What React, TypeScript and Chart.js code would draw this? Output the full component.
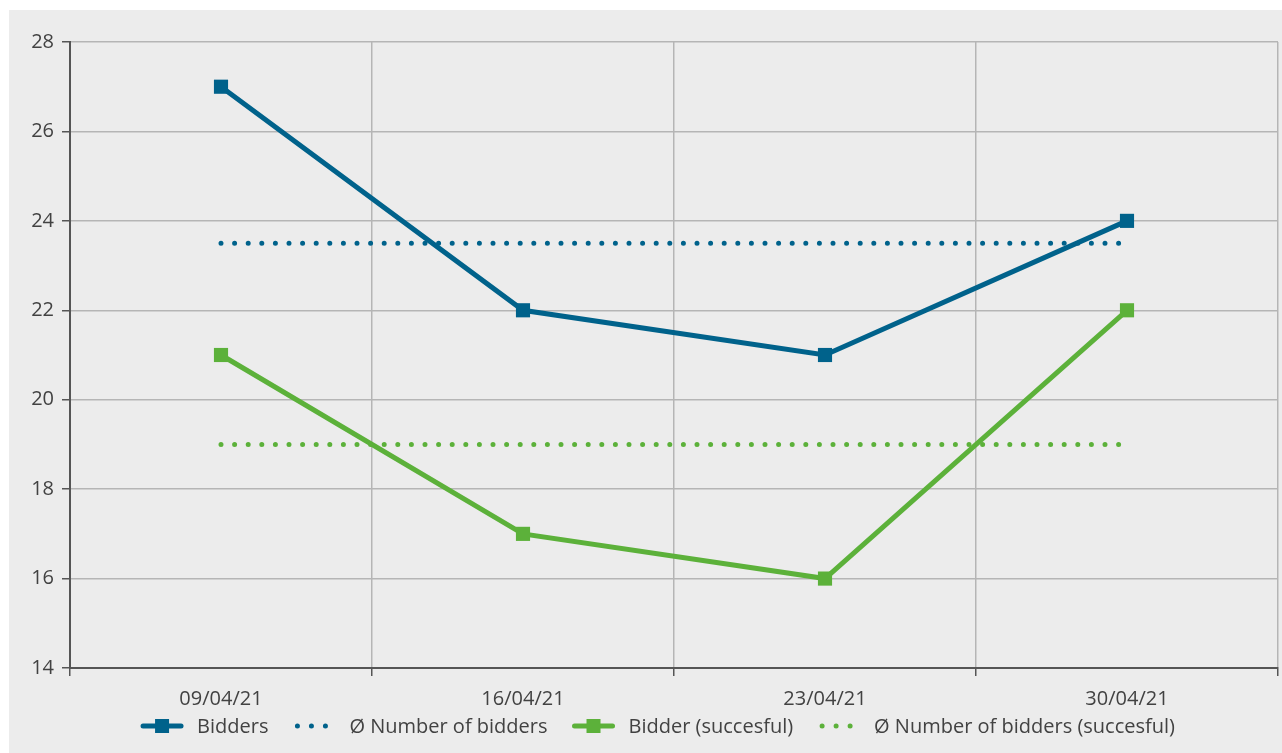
import React, { useEffect, useRef } from "react";
import { Chart, registerables } from "chart.js";

Chart.register(...registerables);

const categories = ["09/04/21", "16/04/21", "23/04/21", "30/04/21"];
const bidders = [27, 22, 21, 24];
const avgBidders = [23.5, 23.5, 23.5, 23.5];
const successful = [21, 17, 16, 22];
const avgSuccessful = [19, 19, 19, 19];
const yTicks = [14, 16, 18, 20, 22, 24, 26, 28];

const BLUE = "#00628b";
const GREEN = "#5cb13a";
const TEXT = "#424242";
const FONT_FAMILY = "'Open Sans', 'Noto Sans', sans-serif";
const FONT_SIZE = 20;
const W = 1273;
const H = 743;

const legendItems = [
  { label: "Bidders", color: BLUE, type: "line" },
  { label: "Ø Number of bidders", color: BLUE, type: "dots" },
  { label: "Bidder (succesful)", color: GREEN, type: "line" },
  { label: "Ø Number of bidders (succesful)", color: GREEN, type: "dots" },
];

const legendPlugin = {
  id: "customLegend",
  afterDraw(chart: any) {
    const ctx = chart.ctx as CanvasRenderingContext2D;
    ctx.save();
    ctx.font = `${FONT_SIZE}px ${FONT_FAMILY}`;
    ctx.textBaseline = "middle";
    const symW = 42;
    const textGap = 14;
    const itemGap = 25;
    const widths = legendItems.map((it) => symW + textGap + ctx.measureText(it.label).width);
    const total = widths.reduce((a, b) => a + b, 0) + itemGap * (legendItems.length - 1);
    const centerX = 649;
    const y = 716;
    let x = centerX - total / 2;
    legendItems.forEach((it, i) => {
      ctx.strokeStyle = it.color;
      ctx.fillStyle = it.color;
      if (it.type === "line") {
        ctx.lineWidth = 5;
        ctx.lineCap = "round";
        ctx.beginPath();
        ctx.moveTo(x + 2, y);
        ctx.lineTo(x + symW - 2, y);
        ctx.stroke();
        ctx.fillRect(x + symW / 2 - 7, y - 7, 14, 14);
      } else {
        for (let k = 0; k < 3; k++) {
          ctx.beginPath();
          ctx.arc(x + 4 + k * 14, y, 2.5, 0, Math.PI * 2);
          ctx.fill();
        }
      }
      ctx.fillStyle = TEXT;
      ctx.fillText(it.label, x + symW + textGap, y + 1);
      x += widths[i] + itemGap;
    });
    ctx.restore();
  },
};

export default function App() {
  const canvasRef = useRef<HTMLCanvasElement | null>(null);

  useEffect(() => {
    const canvas = canvasRef.current;
    if (!canvas) return;
    const chart = new Chart(canvas, {
      type: "line",
      data: {
        labels: categories,
        datasets: [
          {
            label: "Ø Number of bidders",
            data: avgBidders,
            borderColor: BLUE,
            borderWidth: 5,
            borderDash: [0, 13.6],
            borderCapStyle: "round",
            pointRadius: 0,
            fill: false,
          },
          {
            label: "Ø Number of bidders (succesful)",
            data: avgSuccessful,
            borderColor: GREEN,
            borderWidth: 5,
            borderDash: [0, 13.6],
            borderCapStyle: "round",
            pointRadius: 0,
            fill: false,
          },
          {
            label: "Bidders",
            data: bidders,
            borderColor: BLUE,
            backgroundColor: BLUE,
            borderWidth: 5,
            pointStyle: "rect",
            pointRadius: 10,
            pointBorderWidth: 0,
            tension: 0,
            fill: false,
          },
          {
            label: "Bidder (succesful)",
            data: successful,
            borderColor: GREEN,
            backgroundColor: GREEN,
            borderWidth: 5,
            pointStyle: "rect",
            pointRadius: 10,
            pointBorderWidth: 0,
            tension: 0,
            fill: false,
          },
        ],
      },
      options: {
        animation: false,
        responsive: false,
        maintainAspectRatio: false,
        devicePixelRatio: 1,
        layout: { autoPadding: false, padding: { top: 32, right: 4, left: 0, bottom: 0 } },
        plugins: {
          legend: { display: false },
          tooltip: { enabled: false },
        },
        scales: {
          x: {
            type: "category",
            offset: true,
            grid: {
              offset: true,
              color: "#b5b5b5",
              lineWidth: 1.5,
              tickColor: "#555",
              tickLength: 8,
            },
            border: { color: "#555", width: 2 },
            ticks: {
              color: TEXT,
              padding: 11,
              font: { family: FONT_FAMILY, size: FONT_SIZE },
              maxRotation: 0,
            },
            afterFit(scale: any) {
              scale.height = 85;
              scale.paddingLeft = 0;
              scale.paddingRight = 0;
            },
          },
          y: {
            min: 14,
            max: 28,
            afterBuildTicks(scale: any) {
              scale.ticks = yTicks.map((v) => ({ value: v }));
            },
            grid: {
              color: "#b5b5b5",
              lineWidth: 1.5,
              tickColor: "#555",
              tickLength: 8,
            },
            border: { color: "#555", width: 2 },
            ticks: {
              color: TEXT,
              padding: 8,
              font: { family: FONT_FAMILY, size: FONT_SIZE },
            },
            afterFit(scale: any) {
              scale.width = 61;
            },
          },
        },
      },
      plugins: [legendPlugin],
    } as any);
    return () => chart.destroy();
  }, []);

  return (
    <div
      style={{
        position: "fixed",
        left: 9,
        top: 10,
        right: 0,
        bottom: 0,
        background: "#ececec",
      }}
    >
      <canvas ref={canvasRef} width={W} height={H} style={{ display: "block" }} />
    </div>
  );
}
